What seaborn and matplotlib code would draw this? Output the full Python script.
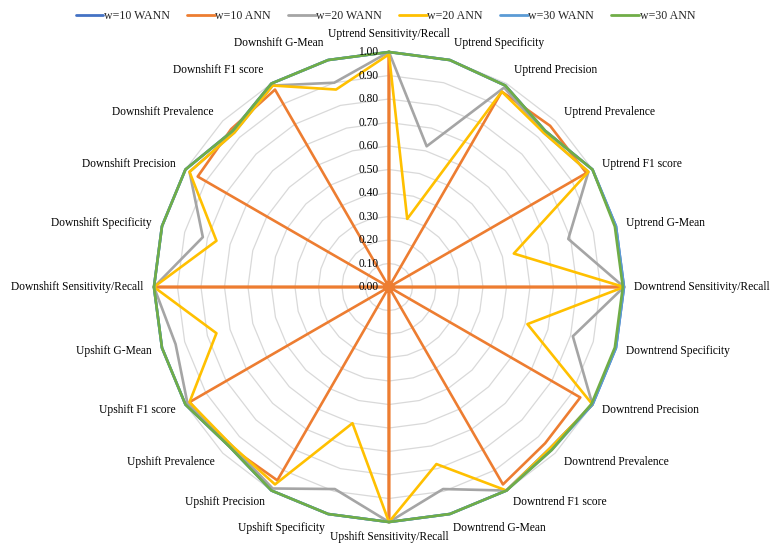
import numpy as np
import pandas as pd
import matplotlib
matplotlib.use("Agg")
import matplotlib.pyplot as plt
import seaborn as sns
from matplotlib.lines import Line2D

# Categories: four signal classes x six metrics, read clockwise from the top
classes = ["Uptrend", "Downtrend", "Upshift", "Downshift"]
metrics = ["Sensitivity/Recall", "Specificity", "Precision", "Prevalence", "F1 score", "G-Mean"]
categories = [f"{c} {m}" for c in classes for m in metrics]

series_names = ["w=10 WANN", "w=10 ANN", "w=20 WANN", "w=20 ANN", "w=30 WANN", "w=30 ANN"]

w10_wann = [1.00, 1.00, 0.99, 0.94, 1.00, 1.00,
            1.00, 1.00, 1.00, 0.97, 1.00, 1.00,
            1.00, 1.00, 1.00, 0.96, 1.00, 1.00,
            1.00, 1.00, 1.00, 0.94, 1.00, 1.00]
w10_ann = [1.00, 0.00, 0.96, 0.97, 0.97, 0.00,
           1.00, 0.00, 0.94, 0.94, 0.97, 0.00,
           1.00, 0.00, 0.95, 0.96, 0.98, 0.00,
           1.00, 0.00, 0.94, 0.95, 0.97, 0.00]
w20_wann = [1.00, 0.62, 0.98, 0.93, 0.98, 0.79,
            1.00, 0.81, 1.00, 0.97, 1.00, 0.89,
            1.00, 0.89, 0.99, 0.95, 0.99, 0.94,
            1.00, 0.82, 0.98, 0.93, 0.99, 0.90]
w20_ann = [0.99, 0.30, 0.96, 0.93, 0.98, 0.55,
           1.00, 0.61, 1.00, 0.97, 1.00, 0.78,
           1.00, 0.60, 0.97, 0.95, 0.98, 0.76,
           1.00, 0.76, 0.98, 0.93, 0.99, 0.87]
w30_wann = [1.00, 1.00, 0.99, 0.94, 1.00, 1.00,
            1.00, 1.00, 1.00, 0.98, 1.00, 1.00,
            1.00, 1.00, 1.00, 0.96, 1.00, 1.00,
            1.00, 1.00, 1.00, 0.94, 1.00, 1.00]
w30_ann = [1.00, 1.00, 0.99, 0.94, 1.00, 0.995,
           0.995, 0.995, 0.995, 0.98, 1.00, 1.00,
           1.00, 1.00, 1.00, 0.96, 1.00, 1.00,
           1.00, 1.00, 1.00, 0.94, 1.00, 1.00]

series_values = [w10_wann, w10_ann, w20_wann, w20_ann, w30_wann, w30_ann]
colors = ["#4472C4", "#ED7D31", "#A5A5A5", "#FFC000", "#5B9BD5", "#70AD47"]
tick_values = [i / 10 for i in range(11)]

sns.set_theme(style="white")
plt.rcParams["font.family"] = ["Liberation Serif", "DejaVu Serif"]

n = len(categories)
theta = np.linspace(0, 2 * np.pi, n, endpoint=False)
theta_closed = np.append(theta, 2 * np.pi)

rows = []
for name, vals in zip(series_names, series_values):
    closed = list(vals) + [vals[0]]
    for t, v in zip(theta_closed, closed):
        rows.append({"theta": t, "value": v, "series": name})
df = pd.DataFrame(rows)

fig = plt.figure(figsize=(7.71, 5.44), dpi=100)
ax = fig.add_axes([0.1997, 0.0404, 0.6096, 0.864], projection="polar")
ax.set_theta_zero_location("N")
ax.set_theta_direction(-1)

# polygonal grid rings
for r in tick_values[1:]:
    ax.plot(theta_closed, [r] * len(theta_closed), color="#d9d9d9", lw=0.9, zorder=1)
ax.plot([0, 0], [0, 1], color="#bfbfbf", lw=0.9, zorder=1)

sns.lineplot(data=df, x="theta", y="value", hue="series", hue_order=series_names,
             palette=colors, sort=False, estimator=None, linewidth=1.9,
             legend=False, ax=ax, zorder=3)
for ln in ax.lines:
    ln.set_clip_on(False)

ax.set_ylim(0, 1)
ax.grid(False)
ax.spines["polar"].set_visible(False)
ax.set_xticks([])
ax.set_yticks([])
ax.set_xlabel("")
ax.set_ylabel("")
ax.patch.set_alpha(0)

# radial value labels along the vertical axis
for v in tick_values:
    ax.annotate(f"{v:.2f}", xy=(0, v), xytext=(-7.5, 0), textcoords="offset points",
                ha="right", va="center", fontsize=8.3, color="black",
                annotation_clip=False)

# category labels around the outer ring
for t, lab in zip(theta, categories):
    s, c = np.sin(t), np.cos(t)
    if c > 0:
        d = 7.5 + 5.5 * c ** 3
    else:
        d = 7.5 + 3.0 * abs(c) ** 3
    if s > 0.05:
        ha = "left"
    elif s < -0.05:
        ha = "right"
    else:
        ha = "center"
    ax.annotate(lab, xy=(t, 1.0), xytext=(s * d, c * d), textcoords="offset points",
                ha=ha, va="center", fontsize=8.3, color="black", annotation_clip=False)

handles = [Line2D([0], [0], color=col, lw=2.0) for col in colors]
fig.legend(handles, series_names, loc="center", bbox_to_anchor=(0.5, 1 - 16 / 544),
           ncol=6, frameon=False, fontsize=8.6, handlelength=2.3,
           handletextpad=0.05, columnspacing=1.45)

fig.savefig("out.png", dpi=100, facecolor="white")
